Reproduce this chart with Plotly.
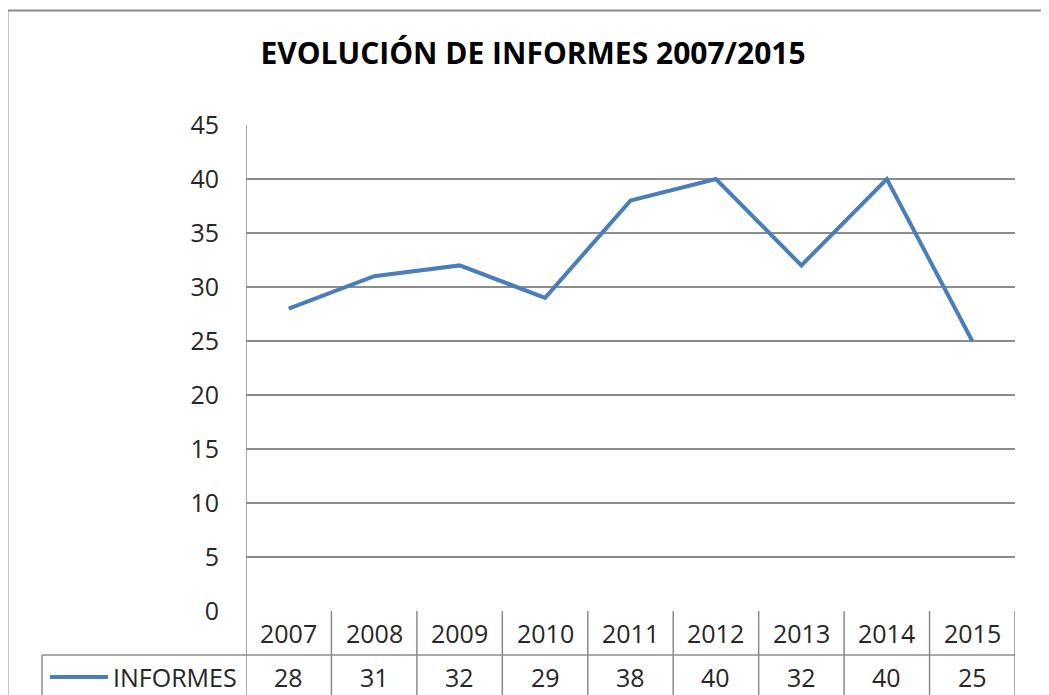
import plotly.graph_objects as go

years = ["2007", "2008", "2009", "2010", "2011", "2012", "2013", "2014", "2015"]
informes = [28, 31, 32, 29, 38, 40, 32, 40, 25]
series_name = "INFORMES"
title_text = "EVOLUCIÓN DE INFORMES 2007/2015"
y_ticks = [0, 5, 10, 15, 20, 25, 30, 35, 40, 45]

# page offset (browser body margin)
OFF = 8
W, H = 1049 - OFF, 695 - OFF
line_color = "#4A7EBB"
grid_color = "#8C8C8C"
text_color = "#262626"
font_family = "Open Sans, Noto Sans, sans-serif"

def py(pix):
    return (H - (pix - OFF)) / H

def px(pix):
    return (pix - OFF) / W

plot_left, plot_right = 246, 1015
plot_top, plot_bottom = 125, 611
row1_bottom = 655
row1_mid = 633
row2_mid = 677
legend_left = 42

fig = go.Figure()
fig.add_trace(go.Scatter(
    x=list(range(len(years))), y=informes, mode="lines", name=series_name,
    line=dict(color=line_color, width=4), showlegend=False,
))

shapes = []
for i in range(len(years) + 1):
    xpos = i - 0.5
    top = py(plot_top) if i == 0 else py(plot_bottom)
    shapes.append(dict(type="line", xref="x", yref="paper", x0=xpos, x1=xpos,
                       y0=-0.05, y1=top, line=dict(color=grid_color, width=1.5)))
shapes.append(dict(type="line", xref="paper", yref="paper", x0=px(legend_left), x1=px(plot_right),
                   y0=py(row1_bottom), y1=py(row1_bottom), line=dict(color=grid_color, width=1.5)))
shapes.append(dict(type="line", xref="paper", yref="paper", x0=px(legend_left), x1=px(legend_left),
                   y0=-0.05, y1=py(row1_bottom), line=dict(color=grid_color, width=1.5)))
shapes.append(dict(type="line", xref="paper", yref="paper", x0=px(50), x1=px(108),
                   y0=py(row2_mid), y1=py(row2_mid), line=dict(color=line_color, width=4)))
shapes.append(dict(type="line", xref="paper", yref="paper", x0=px(7.5), x1=px(7.5),
                   y0=-0.05, y1=py(10.5), line=dict(color="#8A8A8A", width=2)))
shapes.append(dict(type="line", xref="paper", yref="paper", x0=px(6.5), x1=1.05,
                   y0=py(10.5), y1=py(10.5), line=dict(color="#8A8A8A", width=2)))

tfont = dict(size=25, color=text_color, family=font_family)
annotations = []
for i, (yr, v) in enumerate(zip(years, informes)):
    annotations.append(dict(x=i, xref="x", y=py(row1_mid), yref="paper", text=yr,
                            showarrow=False, font=tfont, xanchor="center", yanchor="middle"))
    annotations.append(dict(x=i, xref="x", y=py(row2_mid), yref="paper", text=str(v),
                            showarrow=False, font=tfont, xanchor="center", yanchor="middle"))
annotations.append(dict(x=px(111), xref="paper", y=py(row2_mid), yref="paper", text=series_name,
                        showarrow=False, font=tfont, xanchor="left", yanchor="middle"))

fig.update_layout(
    width=W, height=H,
    margin=dict(l=0, r=0, t=0, b=0, autoexpand=False),
    paper_bgcolor="white", plot_bgcolor="white",
    title=dict(text="<b>" + title_text + "</b>", x=px(533), xanchor="center",
               y=py(53), yanchor="middle",
               font=dict(size=30, color="black", family=font_family)),
    xaxis=dict(domain=[px(plot_left), px(plot_right)], automargin=False,
               range=[-0.5, len(years) - 0.5], showgrid=False, showticklabels=False,
               zeroline=False, showline=False, ticks=""),
    yaxis=dict(domain=[py(plot_bottom), py(plot_top)], range=[0, 45], automargin=False,
               tickvals=y_ticks, showgrid=True, gridcolor=grid_color, gridwidth=1.5,
               zeroline=False, showline=False, ticks="",
               ticklabelstandoff=26, tickfont=tfont),
    shapes=shapes,
    annotations=annotations,
)

fig.write_html("out.html")
